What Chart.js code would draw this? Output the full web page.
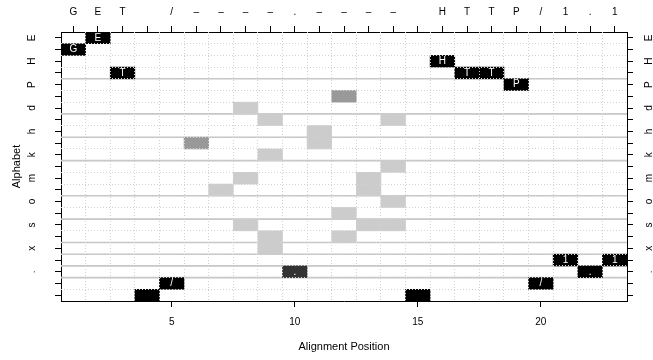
<!DOCTYPE html>
<html>
<head>
<meta charset="utf-8">
<script src="https://cdn.jsdelivr.net/npm/chart.js@4/dist/chart.umd.min.js"></script>
<style>
  html, body { margin: 0; padding: 0; background: #fff; }
  #wrap { width: 653px; height: 360px; }
</style>
</head>
<body>
<div id="wrap"><canvas id="alignChart"></canvas></div>
<script>
// Alignment positions and the request string shown along the top
const positions = [1, 2, 3, 4, 5, 6, 7, 8, 9, 10, 11, 12, 13, 14, 15, 16, 17, 18, 19, 20, 21, 22, 23];
const topLabels = ['G', 'E', 'T', '', '/', '–', '–', '–', '–', '.', '–', '–', '–', '–', '', 'H', 'T', 'T', 'P', '/', '1', '.', '1'];
const xTickValues = [5, 10, 15, 20];

// Alphabet rows, top to bottom (every other one is labelled)
const alphabet = ['E', 'G', 'H', 'T', 'P', 'c', 'd', 'e', 'h', 'i', 'k', 'l', 'm', 'n', 'o', 'r', 's', 't', 'x', '1', '.', '/', ' '];

// Cells as [symbol, position], by shade
const blackCells = [['E', 2], ['G', 1], ['H', 16], ['T', 3], ['T', 17], ['T', 18], ['P', 19],
  ['1', 21], ['1', 23], ['.', 22], ['/', 5], ['/', 20], [' ', 4], [' ', 15]];
const darkCells = [['.', 10]];
const midCells = [['c', 12], ['i', 6]];
const lightCells = [['d', 8], ['e', 9], ['e', 14], ['h', 11], ['i', 11], ['k', 9], ['l', 14],
  ['m', 8], ['m', 13], ['n', 7], ['n', 13], ['o', 14], ['r', 12], ['s', 8], ['s', 13], ['s', 14],
  ['t', 9], ['t', 12], ['x', 9]];

// Row boundaries where the grey separator lines sit
const groupBreaks = [4.5, 7.5, 9.5, 11.5, 14.5, 16.5, 18.5, 19.5, 20.5, 21.5];

const FONT = "'Liberation Sans', Arial, sans-serif";
Chart.defaults.font.family = FONT;
Chart.defaults.color = '#000';

function toBars(cells) {
  return cells.map(([sym, pos]) => ({ y: sym, x: [pos - 0.5, pos + 0.5] }));
}

function cellSet(cells, color, showText) {
  return {
    type: 'bar',
    indexAxis: 'y',
    data: toBars(cells),
    backgroundColor: color,
    borderWidth: 0,
    grouped: false,
    barPercentage: 1,
    categoryPercentage: 1,
    xAxisID: 'x',
    yAxisID: 'y',
    showText: showText,
    order: 0
  };
}

const breakSets = groupBreaks.map(b => ({
  type: 'line',
  data: [{ x: 0.5, y: b }, { x: 23.5, y: b }],
  borderColor: '#c4c4c4',
  borderWidth: 1.6,
  pointRadius: 0,
  xAxisID: 'x',
  yAxisID: 'yl',
  order: 1
}));

// white symbol in the middle of the dark cells
const cellText = {
  id: 'cellText',
  afterDatasetsDraw(chart) {
    const ctx = chart.ctx;
    chart.data.datasets.forEach((ds, i) => {
      if (!ds.showText) return;
      const meta = chart.getDatasetMeta(i);
      meta.data.forEach((bar, j) => {
        ctx.save();
        ctx.fillStyle = '#fff';
        ctx.font = '10px ' + FONT;
        ctx.textAlign = 'center';
        ctx.textBaseline = 'middle';
        ctx.fillText(ds.data[j].y, (bar.x + bar.base) / 2, bar.y);
        ctx.restore();
      });
    });
  }
};

const tickFont = { size: 10 };
const titleFont = { size: 11 };
const boundaries = positions.slice(1).map(p => p - 0.5);

new Chart(document.getElementById('alignChart'), {
  type: 'bar',
  data: {
    labels: alphabet,
    datasets: [
      cellSet(blackCells, '#000000', true),
      cellSet(darkCells, '#333333', true),
      cellSet(midCells, '#999999', false),
      cellSet(lightCells, '#cccccc', false),
      ...breakSets
    ]
  },
  options: {
    responsive: true,
    maintainAspectRatio: false,
    animation: false,
    layout: { padding: 0 },
    plugins: { legend: { display: false }, tooltip: { enabled: false } },
    scales: {
      x: {
        type: 'linear', position: 'bottom', min: 0.5, max: 23.5, bounds: 'data', offset: false,
        afterBuildTicks: s => { s.ticks = xTickValues.map(v => ({ value: v })); },
        afterFit: s => { s.height = 59; },
        ticks: { font: tickFont, padding: 9, maxRotation: 0, autoSkip: false },
        grid: { offset: false, drawOnChartArea: false, tickLength: 6, tickColor: '#000' },
        border: { display: true, color: '#000', width: 1 },
        title: { display: true, text: 'Alignment Position', font: titleFont, padding: { top: 0, bottom: 6.4 } }
      },
      x2: {
        type: 'linear', position: 'top', min: 0.5, max: 23.5, bounds: 'data', offset: false,
        afterBuildTicks: s => { s.ticks = positions.map(v => ({ value: v })); },
        afterFit: s => { s.height = 32; },
        ticks: { font: tickFont, padding: 7.5, maxRotation: 0, autoSkip: false,
          callback: (v, i) => topLabels[i] },
        grid: { offset: false, drawOnChartArea: false, tickLength: 6, tickColor: '#000' },
        border: { display: true, color: '#000', width: 1 }
      },
      xg: {
        type: 'linear', position: 'bottom', min: 0.5, max: 23.5, bounds: 'data', offset: false,
        afterBuildTicks: s => { s.ticks = boundaries.map(v => ({ value: v })); },
        afterFit: s => { s.height = 0; },
        ticks: { display: false },
        grid: { offset: false, drawTicks: false, color: '#d2d2d2', lineWidth: 1, z: 1 },
        border: { display: false, dash: [1, 2] }
      },
      y: {
        type: 'category', position: 'left', offset: true,
        afterFit: s => { s.width = 61; },
        ticks: { font: tickFont, padding: 18.5, autoSkip: false, minRotation: 90, maxRotation: 90,
          crossAlign: 'center', callback: (v, i) => (i % 2 === 0 ? alphabet[i] : '') },
        grid: { offset: false, drawOnChartArea: false, tickLength: 6, tickColor: '#000' },
        border: { display: true, color: '#000', width: 1 },
        title: { display: true, text: 'Alphabet', font: titleFont, padding: { top: 10, bottom: 0 } }
      },
      y2: {
        type: 'category', position: 'right', offset: true,
        afterFit: s => { s.width = 26; },
        ticks: { font: tickFont, padding: 12.5, autoSkip: false, minRotation: 90, maxRotation: 90,
          crossAlign: 'center', callback: (v, i) => (i % 2 === 0 ? alphabet[i] : '') },
        grid: { offset: false, drawOnChartArea: false, tickLength: 6, tickColor: '#000' },
        border: { display: true, color: '#000', width: 1 }
      },
      yl: {
        type: 'linear', position: 'left', min: 0.5, max: 23.5, reverse: true, bounds: 'data', offset: false,
        afterBuildTicks: s => { s.ticks = boundaries.map(v => ({ value: v })); },
        afterFit: s => { s.width = 0; },
        ticks: { display: false },
        grid: { offset: false, drawTicks: false, color: '#d2d2d2', lineWidth: 1, z: 1 },
        border: { display: false, dash: [1, 2] }
      }
    }
  },
  plugins: [cellText]
});
</script>
</body>
</html>
